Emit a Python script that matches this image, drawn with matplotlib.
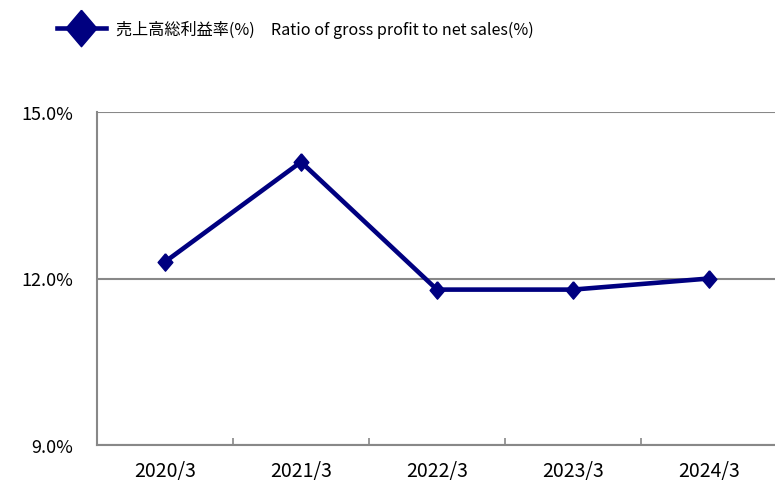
import matplotlib
matplotlib.use("Agg")
import matplotlib.pyplot as plt

plt.rcParams['font.family'] = ['Noto Sans CJK JP', 'DejaVu Sans']

years = ['2020/3', '2021/3', '2022/3', '2023/3', '2024/3']
gross_margin = [12.3, 14.1, 11.8, 11.8, 12.0]
yticks = [9.0, 12.0, 15.0]
label = '売上高総利益率(%)\u3000Ratio of gross profit to net sales(%)'

# slightly tall diamond like the original
diamond = [(0, 1), (0.85, 0), (0, -1), (-0.85, 0), (0, 1)]

fig = plt.figure(figsize=(7.75, 4.81), dpi=100)
ax = fig.add_axes([97/775, 35/481, 680/775, 333/481])

x = list(range(len(years)))
ax.plot(x, gross_margin, color='#000080', lw=3.3, marker=diamond, ms=12.5,
        mfc='#000080', mec='#000080', label=label, zorder=3)

ax.set_xlim(-0.5, len(years) - 0.5)
ax.set_ylim(9.0, 15.0)
ax.set_yticks(yticks)
ax.set_yticklabels([f'{v:.1f}%' for v in yticks], fontsize=13)
ax.set_xticks(x)
ax.set_xticklabels(years, fontsize=14)
ax.set_xticks([i + 0.5 for i in x[:-1]], minor=True)

ax.tick_params(axis='y', length=0, pad=17)
ax.tick_params(axis='x', which='major', length=0, pad=11)
ax.tick_params(axis='x', which='minor', direction='in', length=5, color='#888888', width=1.2)

ax.yaxis.grid(True, color='#888888', lw=1.5)
ax.set_axisbelow(True)
for s in ['top', 'right']:
    ax.spines[s].set_visible(False)
for s in ['left', 'bottom']:
    ax.spines[s].set_color('#888888')
    ax.spines[s].set_linewidth(1.5)

leg = fig.legend(loc='center left', bbox_to_anchor=(42/775, 1 - 30/481), frameon=False,
                 fontsize=11.6, markerscale=2.1, handlelength=3.1, handletextpad=0.6)

fig.savefig('out.png', dpi=100)
